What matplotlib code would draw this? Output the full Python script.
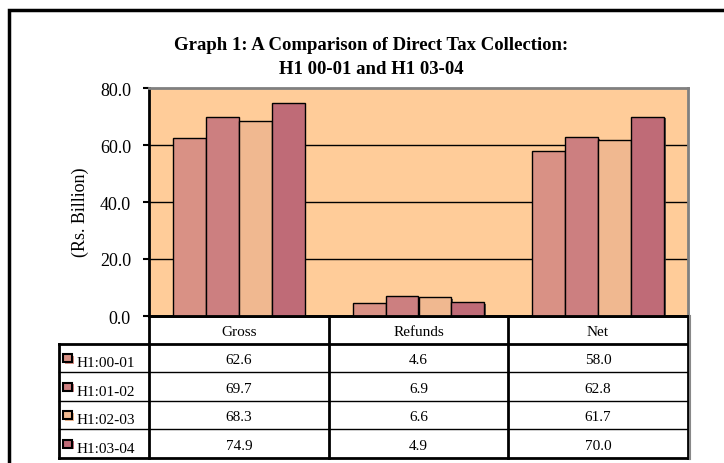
import matplotlib.pyplot as plt
import matplotlib.patheffects as pe
import numpy as np

plt.rcParams['font.family'] = ['Liberation Serif', 'DejaVu Serif']

categories = ['Gross', 'Refunds', 'Net']
series = ['H1:00-01', 'H1:01-02', 'H1:02-03', 'H1:03-04']
values = [
    [62.6, 4.6, 58.0],
    [69.7, 6.9, 62.8],
    [68.3, 6.6, 61.7],
    [74.9, 4.9, 70.0],
]
colors = ['#D99185', '#CC7F80', '#F0B890', '#BF6B77']

W, H = 724, 464
fig = plt.figure(figsize=(W / 100, H / 100), dpi=100)

# plot area in pixel coords
px_l, px_r, px_t, px_b = 149, 688, 89, 317
ax = fig.add_axes([px_l / W, 1 - px_b / H, (px_r - px_l) / W, (px_b - px_t) / H])
ax.set_facecolor('#FFCC99')

x = np.arange(len(categories)) + 0.5
bw = 0.183
for i, (name, vals) in enumerate(zip(series, values)):
    ax.bar(x + (i - 1.5) * bw, vals, bw, color=colors[i], edgecolor='black',
           linewidth=1.0, zorder=3,
           path_effects=[pe.SimplePatchShadow(offset=(1.2, -1.2), shadow_rgbFace='#333333', alpha=0.8), pe.Normal()])

ax.set_xlim(0, 3)
ax.set_ylim(0, 80)
ax.set_yticks([0, 20, 40, 60, 80])
ax.set_yticklabels(['%.1f' % v for v in [0, 20, 40, 60, 80]], fontsize=13)
ax.set_xticks([])
ax.tick_params(axis='y', length=4, width=1.5, pad=9)
for v in [20, 40, 60]:
    ax.axhline(v, color='black', lw=1.0, zorder=1)
ax.spines['left'].set_linewidth(2)
ax.spines['bottom'].set_linewidth(2)
ax.spines['top'].set_color('#808080')
ax.spines['top'].set_linewidth(2)
ax.spines['right'].set_color('#808080')
ax.spines['right'].set_linewidth(2)
ax.set_ylabel('(Rs. Billion)', fontsize=13)
ax.yaxis.set_label_coords((89 - px_l) / (px_r - px_l), 0.46)

fig.text(371 / W, 1 - 45 / H, 'Graph 1: A Comparison of Direct Tax Collection:',
         ha='center', va='center', fontsize=13.5, fontweight='bold')
fig.text(371 / W, 1 - 70 / H, 'H1 00-01 and H1 03-04',
         ha='center', va='center', fontsize=13.5, fontweight='bold')

# overlay for frame and data table
ov = fig.add_axes([0, 0, 1, 1], facecolor='none')
ov.set_xlim(0, W)
ov.set_ylim(H, 0)
ov.axis('off')

# outer frame
ov.plot([9, 9, W], [H, 11, 11], color='black', lw=2.5, solid_joinstyle='miter')

col_x = [px_l, 329, 508, px_r]
leg_l = 59
row_y = [px_b, 345, 373, 402, 430, 459]

# header cells
ov.plot([px_l, px_r], [px_b, px_b], color='black', lw=2)
for cx in col_x:
    ov.plot([cx, cx], [px_b, row_y[-1]], color='black', lw=2)
ov.plot([leg_l, leg_l], [row_y[1], row_y[-1]], color='black', lw=2)
ov.plot([leg_l, px_r], [row_y[1], row_y[1]], color='black', lw=2)
ov.plot([leg_l, px_r], [row_y[-1], row_y[-1]], color='black', lw=2)
for ry in row_y[2:-1]:
    ov.plot([leg_l, px_r], [ry, ry], color='black', lw=1)
ov.plot([px_r + 2, px_r + 2], [px_b, row_y[-1] + 1], color='#888888', lw=1.5)

for j, cat in enumerate(categories):
    ov.text((col_x[j] + col_x[j + 1]) / 2, (row_y[0] + row_y[1]) / 2 + 1.5, cat,
            ha='center', va='center', fontsize=11)

for i, name in enumerate(series):
    yc = (row_y[i + 1] + row_y[i + 2]) / 2
    # legend key with a coloured offset shadow
    ov.add_patch(plt.Rectangle((64.5, yc - 2.5), 9, 8, facecolor=colors[i],
                               edgecolor='none'))
    ov.add_patch(plt.Rectangle((63, yc - 4), 9, 8, facecolor=colors[i],
                               edgecolor='black', lw=1.5))
    ov.text(77, yc + 5, name, ha='left', va='center', fontsize=11)
    for j in range(len(categories)):
        ov.text((col_x[j] + col_x[j + 1]) / 2, yc + 2, '%.1f' % values[i][j],
                ha='center', va='center', fontsize=11)

plt.savefig('out.png', dpi=100)
